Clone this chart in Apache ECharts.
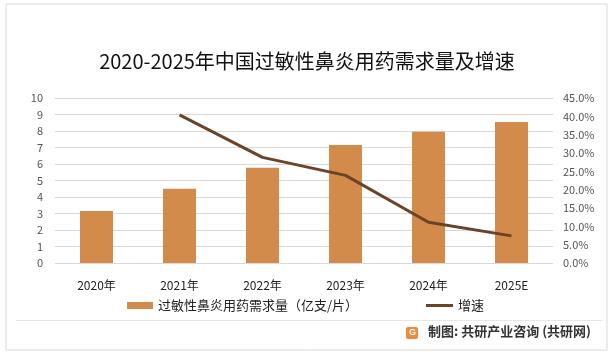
<!DOCTYPE html>
<html><head><meta charset="utf-8">
<script src="https://cdn.jsdelivr.net/npm/echarts@6/dist/echarts.min.js"></script>
<style>html,body{margin:0;padding:0;background:#fff}#c{width:614px;height:357px}</style>
</head><body><div id="c"></div>
<script>
const categories = ['2020年','2021年','2022年','2023年','2024年','2025E'];
const demand = [3.15, 4.5, 5.78, 7.15, 7.95, 8.55];
const growth = [null, 40.4, 28.8, 23.9, 11.1, 7.4];
const title = '2020-2025年中国过敏性鼻炎用药需求量及增速';
const barName = '过敏性鼻炎用药需求量（亿支/片）';
const lineName = '增速';
const source = '制图: 共研产业咨询 (共研网)';

const chart = echarts.init(document.getElementById('c'), null, {renderer:'canvas'});
const font = '"Noto Sans CJK SC","Noto Sans",sans-serif';
const legendText = {fontFamily:font,fontSize:13,color:'#222'};
chart.setOption({
  animation:false,
  backgroundColor:'#fff',
  title:{text:title,left:'center',top:46,textStyle:{fontFamily:font,fontSize:20,fontWeight:'normal',color:'#111'}},
  grid:{left:55,right:61,top:98,bottom:94},
  legend:[
    {top:294,left:122,itemWidth:26,itemHeight:7,itemGap:4,textStyle:legendText,
      data:[{name:barName,icon:'rect'}]},
    {top:294,left:421,itemWidth:27,itemHeight:3,textStyle:legendText,
      data:[{name:lineName,icon:'rect'}]}
  ],
  xAxis:{type:'category',data:categories,axisLine:{show:false},axisTick:{show:false},
    axisLabel:{fontFamily:font,fontSize:12,color:'#222',margin:16}},
  yAxis:[
    {type:'value',min:0,max:10,interval:1,axisLine:{show:false},axisTick:{show:false},
      axisLabel:{fontFamily:font,fontSize:11,color:'#555',margin:12},
      splitLine:{lineStyle:{color:'#d9d9d9',width:1}}},
    {type:'value',min:0,max:45,interval:5,axisLine:{show:false},axisTick:{show:false},
      axisLabel:{fontFamily:font,fontSize:11,color:'#555',margin:10,formatter:v=>v.toFixed(1)+'%'},
      splitLine:{show:false}}
  ],
  series:[
    {name:barName,type:'bar',data:demand,barWidth:33,itemStyle:{color:'#D38B4C'}},
    {name:lineName,type:'line',yAxisIndex:1,data:growth,symbol:'none',connectNulls:false,
      lineStyle:{color:'#6B4427',width:3},itemStyle:{color:'#6B4427'}}
  ],
  graphic:[
    {type:'rect',shape:{x:6,y:4,width:601,height:346},style:{fill:'none',stroke:'#d9d9d9',lineWidth:1}},
    {type:'line',shape:{x1:16,y1:320.5,x2:603,y2:320.5},style:{stroke:'#e6e6e6',lineWidth:1}},
    {type:'rect',shape:{x:406,y:327,width:12,height:12,r:2},style:{fill:'#F08B3E'}},
    {type:'text',x:409,y:328.5,style:{text:'G',fill:'#fff',font:'bold 9px sans-serif'}},
    {type:'text',x:428,y:325,style:{text:source,fill:'#333',font:'bold 13px '+font}}
  ]
});
</script></body></html>
